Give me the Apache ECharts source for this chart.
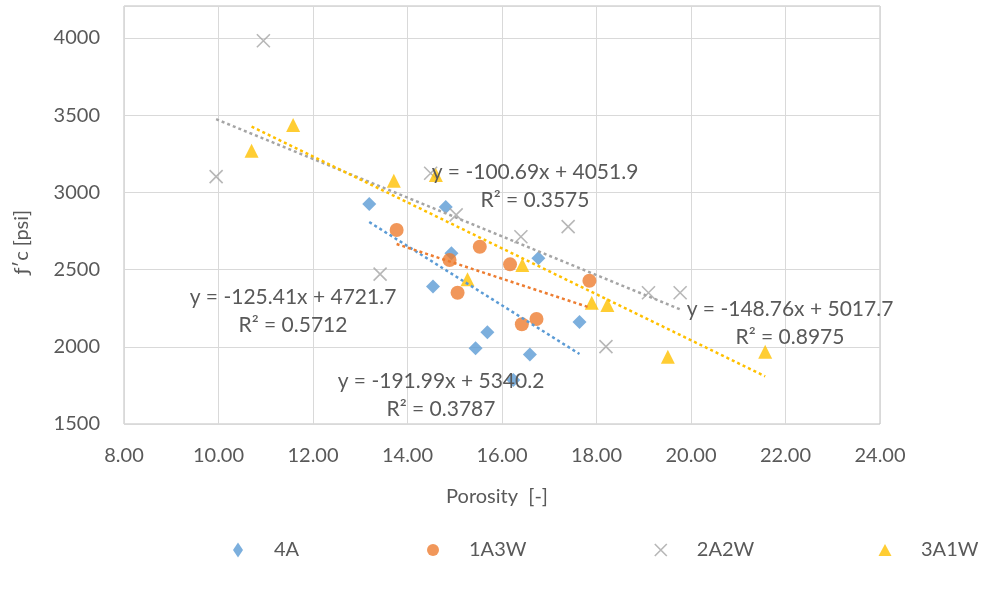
<!DOCTYPE html>
<html>
<head>
<meta charset="utf-8">
<script src="https://cdn.jsdelivr.net/npm/echarts@6/dist/echarts.min.js"></script>
<style>
html,body{margin:0;padding:0;background:#fff}
#chart{width:984px;height:604px}
</style>
</head>
<body>
<div id="chart"></div>
<script>
// series names
var names = ['4A', '1A3W', '2A2W', '3A1W'];

// porosity / f'c points
var x4A = [13.19, 14.81, 14.54, 14.93, 15.69, 15.44, 16.59, 16.77, 17.64, 16.24];
var y4A = [2925, 2905, 2390, 2606, 2094, 1990, 1950, 2573, 2160, 1785];

var x1A3W = [13.77, 14.89, 15.53, 16.17, 15.06, 17.85, 16.42, 16.73];
var y1A3W = [2756, 2562, 2648, 2534, 2350, 2428, 2146, 2180];

var x2A2W = [10.95, 9.95, 13.42, 14.49, 15.03, 16.40, 17.40, 19.10, 19.77, 18.20];
var y2A2W = [3982, 3102, 2471, 3124, 2854, 2713, 2778, 2350, 2350, 2001];

var x3A1W = [10.70, 11.58, 13.71, 14.60, 15.27, 16.43, 17.90, 18.23, 19.51, 21.57];
var y3A1W = [3270, 3437, 3076, 3113, 2437, 2530, 2286, 2271, 1936, 1968];

// linear trendlines as printed on the chart
var slopes = [-191.99, -100.69, -125.41, -148.76];
var intercepts = [5340.2, 4051.9, 4721.7, 5017.7];
var r2 = ['0.3787', '0.3575', '0.5712', '0.8975'];

var xTicks = [8, 10, 12, 14, 16, 18, 20, 22, 24];
var yTicks = [1500, 2000, 2500, 3000, 3500, 4000];

var xs = [x4A, x1A3W, x2A2W, x3A1W];
var ys = [y4A, y1A3W, y2A2W, y3A1W];
var colors = ['#5B9BD5', '#ED7D31', '#A5A5A5', '#FFC000'];
var symbols = ['diamond', 'circle', 'path://M0,0L10,10M10,0L0,10', 'triangle'];
var sizes = [14, 14, 13, 14];

var fontName = 'Lato';
var textColor = '#595959';

var myChart = echarts.init(document.getElementById('chart'));

var series = [];
names.forEach(function (n, i) {
    var pts = xs[i].map(function (v, k) { return [v, ys[i][k]]; });
    var isX = i === 2;
    series.push({
        name: n,
        type: 'scatter',
        data: pts,
        symbol: symbols[i],
        symbolSize: sizes[i],
        itemStyle: isX
            ? { color: 'rgba(0,0,0,0)', borderColor: colors[i], borderWidth: 1.6 }
            : { color: colors[i] },
        z: 3
    });
});

// trendlines from the printed equations, over each series' x range
names.forEach(function (n, i) {
    var lo = Math.min.apply(null, xs[i]);
    var hi = Math.max.apply(null, xs[i]);
    series.push({
        name: n + ' trend',
        type: 'line',
        data: [[lo, slopes[i] * lo + intercepts[i]], [hi, slopes[i] * hi + intercepts[i]]],
        showSymbol: false,
        symbol: 'none',
        silent: true,
        lineStyle: { color: colors[i], width: 2.5, type: [3, 3] },
        z: 4
    });
});

// where each equation label sits (pixel centre of its first line)
var eqPos = [[441, 381], [535, 172], [293, 297], [790, 309]];
var graphics = [];
eqPos.forEach(function (p, i) {
    var eq = 'y = ' + slopes[i].toFixed(2) + 'x + ' + intercepts[i].toFixed(1);
    graphics.push({
        type: 'text', x: p[0], y: p[1], z: 10,
        style: { text: eq, fill: textColor, font: '21px ' + fontName, align: 'center', verticalAlign: 'middle' }
    });
    graphics.push({
        type: 'text', x: p[0], y: p[1] + 28, z: 10,
        style: { text: 'R² = ' + r2[i], fill: textColor, font: '21px ' + fontName, align: 'center', verticalAlign: 'middle' }
    });
});
graphics.push({
    type: 'text', x: 497, y: 497,
    style: { text: 'Porosity  [-]', fill: textColor, font: '20px ' + fontName, align: 'center', verticalAlign: 'middle' }
});
graphics.push({
    type: 'text', x: 22, y: 242, rotation: Math.PI / 2,
    style: { text: 'ƒ′c [psi]', fill: textColor, font: '20px ' + fontName, align: 'center', verticalAlign: 'middle' }
});

var legendCenters = [233, 428, 655, 880];
var legendSizes = [[10, 15], [12, 12], [12, 12], [13, 12]];
var legends = names.map(function (n, i) {
    var item = { name: n };
    if (i === 2) item.itemStyle = { color: 'rgba(0,0,0,0)', borderColor: colors[i], borderWidth: 1.6 };
    return {
        data: [item],
        left: legendCenters[i] - legendSizes[i][0] / 2,
        top: 535,
        itemWidth: legendSizes[i][0],
        itemHeight: legendSizes[i][1],
        itemGap: 0,
        selectedMode: false,
        formatter: '{t|{name}}',
        textStyle: {
            color: textColor, fontSize: 20, fontFamily: fontName,
            rich: { t: { color: textColor, fontSize: 20, fontFamily: fontName, padding: [0, 0, 0, 31 - legendSizes[i][0] / 2] } }
        }
    };
});

var option = {
    animation: false,
    backgroundColor: '#fff',
    grid: {
        left: 124, right: 104, top: 6, bottom: 180,
        show: true, borderColor: '#BFBFBF', borderWidth: 1
    },
    legend: legends,
    xAxis: {
        type: 'value',
        min: xTicks[0], max: xTicks[xTicks.length - 1], interval: 2,
        axisLine: { show: false },
        axisTick: { show: false },
        splitLine: { lineStyle: { color: '#D9D9D9', width: 1 } },
        axisLabel: {
            color: textColor, fontSize: 20, fontFamily: fontName, margin: 22,
            formatter: function (v) { return v.toFixed(2); }
        }
    },
    yAxis: {
        type: 'value',
        min: yTicks[0], max: 4207, interval: 500,
        axisLine: { show: false },
        axisTick: { show: false },
        splitLine: { lineStyle: { color: '#D9D9D9', width: 1 } },
        axisLabel: {
            color: textColor, fontSize: 20, fontFamily: fontName, margin: 24,
            formatter: function (v) { return yTicks.indexOf(v) >= 0 ? String(v) : ''; }
        }
    },
    graphic: graphics,
    series: series
};

myChart.setOption(option);
</script>
</body>
</html>
